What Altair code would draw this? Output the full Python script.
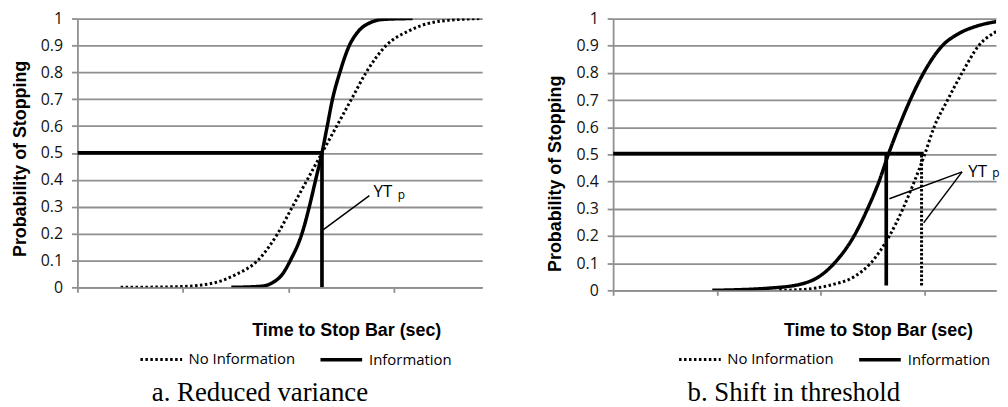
import altair as alt
import pandas as pd

# ---------------- Panel a: Reduced variance ----------------
a_noinfo_x = [0.41, 0.99, 1.18, 1.31, 1.49, 1.71, 1.90, 2.04, 2.18, 2.32, 2.46, 2.60, 2.74, 2.93, 3.15, 3.33, 3.46, 3.84]
a_noinfo_y = [0.0, 0.003, 0.009, 0.018, 0.045, 0.1, 0.2, 0.3, 0.4, 0.5, 0.6, 0.7, 0.8, 0.9, 0.955, 0.982, 0.991, 1.0]
a_info_x = [1.46, 1.74, 1.84, 1.95, 2.02, 2.13, 2.20, 2.26, 2.32, 2.37, 2.42, 2.49, 2.58, 2.66, 2.78, 2.91, 3.18]
a_info_y = [0.0, 0.004, 0.015, 0.052, 0.1, 0.2, 0.3, 0.4, 0.5, 0.6, 0.7, 0.8, 0.9, 0.95, 0.985, 0.997, 1.0]
# reference segments: x, y, x2, y2
a_thick = [(0.0, 0.5, 2.32, 0.5), (2.32, 0.0, 2.32, 0.5)]
a_dotted = []
a_thin = [(2.77, 0.341, 2.33, 0.214)]
a_text = [("YT", 2.81, 0.354, 17), ("p", 3.04, 0.345, 12)]

# ---------------- Panel b: Shift in threshold ----------------
b_noinfo_x = [1.60, 1.82, 2.10, 2.32, 2.48, 2.66, 2.79, 2.90, 3.00, 3.09, 3.22, 3.36, 3.52, 3.68, 3.80]
b_noinfo_y = [0.0, 0.003, 0.02, 0.05, 0.1, 0.2, 0.3, 0.4, 0.5, 0.6, 0.7, 0.8, 0.9, 0.95, 0.972]
b_info_x = [0.955, 1.50, 1.82, 2.00, 2.13, 2.32, 2.45, 2.56, 2.65, 2.75, 2.86, 2.99, 3.17, 3.33, 3.50, 3.65, 3.80]
b_info_y = [0.0, 0.008, 0.024, 0.055, 0.1, 0.2, 0.3, 0.4, 0.5, 0.6, 0.7, 0.8, 0.9, 0.945, 0.972, 0.986, 0.994]
b_thick = [(0.0, 0.503, 2.99, 0.503), (2.63, 0.018, 2.63, 0.503)]
b_dotted = [(2.97, 0.018, 2.97, 0.503)]
b_thin = [(3.36, 0.436, 2.66, 0.337), (3.36, 0.436, 2.99, 0.248)]
b_text = [("YT", 3.42, 0.436, 17), ("p", 3.65, 0.43, 12)]

SERIES = ["No Information", "Information"]
Y_TICKS = [round(i * 0.1, 1) for i in range(11)]
GRID = "#8f8f8f"


def curves(nx, ny, ix, iy):
    rows = [{"x": a, "y": b, "series": SERIES[0]} for a, b in zip(nx, ny)]
    rows += [{"x": a, "y": b, "series": SERIES[1]} for a, b in zip(ix, iy)]
    return pd.DataFrame(rows)


def segs(lst):
    return pd.DataFrame([{"x": a, "y": b, "x2": c, "y2": d} for a, b, c, d in lst])


def panel(cdf, thick, dotted, thin, texts, width, height, xmax,
          ytx, yty, xtx, xty, legx, caption, cap_dx, cap_off):
    xs = alt.Scale(domain=[0, xmax], nice=False, zero=False)
    ys = alt.Scale(domain=[0, 1], nice=False)
    xaxis = alt.Axis(values=[0, 1, 2, 3], labels=False, ticks=True, tickSize=5,
                     tickColor=GRID, tickWidth=1.8, domain=True, domainColor=GRID,
                     domainWidth=1.8, grid=False,
                     title="Time to Stop Bar (sec)", titleX=xtx, titleY=xty,
                     titleAlign="center", titleBaseline="middle",
                     titleFont="Liberation Sans", titleFontSize=18,
                     titleFontWeight="bold", titleColor="black")
    yaxis = alt.Axis(values=Y_TICKS, format=".1~f", grid=True, gridColor=GRID,
                     gridWidth=1.8, tickSize=6, tickColor=GRID, tickWidth=1.8,
                     domainColor=GRID, domainWidth=1.8, labelPadding=9,
                     labelFont="Open Sans", labelFontSize=16, labelColor="#111",
                     title="Probability of Stopping", titleX=ytx, titleY=yty,
                     titleAngle=270, titleAlign="center", titleBaseline="middle",
                     titleFont="Liberation Sans", titleFontSize=18,
                     titleFontWeight="bold", titleColor="black")
    X = alt.X("x:Q", scale=xs, axis=xaxis)
    Y = alt.Y("y:Q", scale=ys, axis=yaxis)

    lines = alt.Chart(cdf).mark_line(interpolate="monotone", color="black",
                                     strokeCap="butt", clip=True).encode(
        x=X, y=Y,
        strokeDash=alt.StrokeDash(
            "series:N",
            scale=alt.Scale(domain=SERIES, range=[[2.5, 2.5], [1, 0]]),
            legend=alt.Legend(orient="none", legendX=legx, legendY=321,
                              direction="horizontal", title=None,
                              symbolType="stroke", symbolSize=1764,
                              symbolStrokeColor="black", symbolStrokeWidth=3,
                              labelFont="Open Sans", labelFontSize=15,
                              labelColor="black", labelOffset=5,
                              columnPadding=18)),
        strokeWidth=alt.StrokeWidth(
            "series:N", scale=alt.Scale(domain=SERIES, range=[3, 3.5]),
            legend=None),
    )
    layers = [lines]
    layers.append(alt.Chart(segs(thick)).mark_rule(color="black", strokeWidth=3.7,
                                                   clip=True)
                  .encode(x=X, y=Y, x2="x2:Q", y2="y2:Q"))
    if dotted:
        layers.append(alt.Chart(segs(dotted)).mark_rule(color="black", strokeWidth=3,
                                                        strokeDash=[2.5, 1.8])
                      .encode(x=X, y=Y, x2="x2:Q", y2="y2:Q"))
    layers.append(alt.Chart(segs(thin)).mark_rule(color="black", strokeWidth=1.5)
                  .encode(x=X, y=Y, x2="x2:Q", y2="y2:Q"))
    tdf = pd.DataFrame([{"t": t, "x": a, "y": b, "fs": f} for t, a, b, f in texts])
    layers.append(alt.Chart(tdf).mark_text(align="left", baseline="middle",
                                           font="Open Sans", color="black")
                  .encode(x=X, y=Y, text="t:N", size=alt.Size("fs:Q", scale=None)))
    return alt.layer(*layers).properties(
        width=width, height=height,
        title=alt.TitleParams(caption, orient="bottom", anchor="start", frame="group",
                              baseline="alphabetic", dx=cap_dx, offset=cap_off,
                              font="Liberation Serif", fontSize=27,
                              fontWeight="normal", color="black"),
    ).resolve_scale(strokeDash="independent", strokeWidth="independent")


left = panel(curves(a_noinfo_x, a_noinfo_y, a_info_x, a_info_y), a_thick, a_dotted,
             a_thin, a_text, 408, 271, 3.84, -57, 141, 271, 44, 62,
             "a. Reduced variance", 75, 34)
right = panel(curves(b_noinfo_x, b_noinfo_y, b_info_x, b_info_y), b_thick, b_dotted,
              b_thin, b_text, 386, 274, 3.687, -58, 156, 267, 41, 65,
              "b. Shift in threshold", 75, 34)

chart = alt.hconcat(left, right, spacing=65).resolve_scale(
    strokeDash="independent", strokeWidth="independent"
).resolve_legend(strokeDash="independent", strokeWidth="independent").properties(
    padding={"left": 4, "top": 1, "right": 0, "bottom": 0}
).configure_view(stroke=None)

chart.save("out.html", embed_options={"renderer": "svg", "actions": False})
